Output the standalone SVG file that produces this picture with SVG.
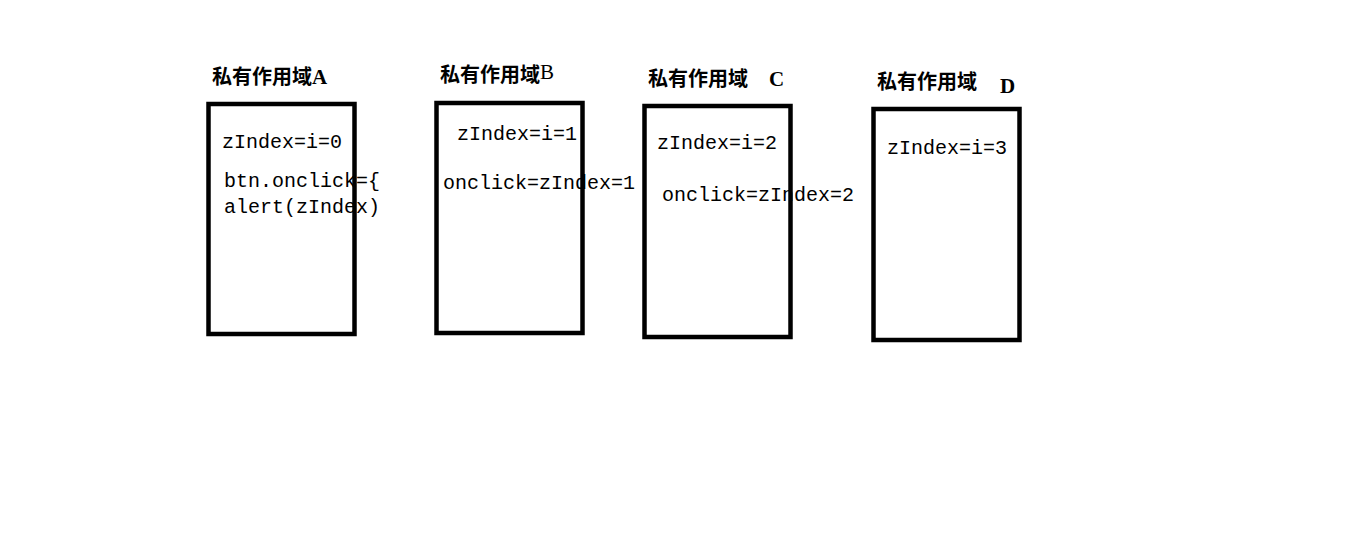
<svg xmlns="http://www.w3.org/2000/svg" width="1360" height="540" viewBox="0 0 1360 540">
<style>
.box{fill:none;stroke:#000;stroke-width:4.5}
.t{font-family:"Liberation Mono","DejaVu Sans Mono",monospace;font-size:20px;fill:#000}
.h{font-family:"Noto Sans CJK SC","Liberation Serif",sans-serif;font-size:20px;font-weight:bold;fill:#000}
.l{font-family:"Liberation Serif",serif;font-size:21px;font-weight:bold}
.n{font-weight:normal}
</style>
<rect width="1360" height="540" fill="#fff"/>
<g id="scopeA">
<text class="h" x="212" y="84">私有作用域<tspan class="l">A</tspan></text>
<text class="t" x="222" y="148">zIndex=i=0</text>
<text class="t" x="224" y="187">btn.onclick={</text>
<text class="t" x="224" y="213">alert(zIndex)</text>
<rect class="box" x="208.5" y="104" width="146" height="230"/>
</g>
<g id="scopeB">
<text class="h" x="440" y="82">私有作用域<tspan class="l n" dy="-3">B</tspan></text>
<text class="t" x="457" y="140">zIndex=i=1</text>
<text class="t" x="443" y="189">onclick=zIndex=1</text>
<rect class="box" x="436.5" y="103" width="146" height="230"/>
</g>
<g id="scopeC">
<text class="h" x="648" y="86">私有作用域<tspan class="l" x="769">C</tspan></text>
<text class="t" x="657" y="149">zIndex=i=2</text>
<text class="t" x="662" y="201">onclick=zIndex=2</text>
<rect class="box" x="644.5" y="106" width="146" height="231"/>
</g>
<g id="scopeD">
<text class="h" x="877" y="89">私有作用域<tspan class="l" x="1000" dy="4">D</tspan></text>
<text class="t" x="887" y="154">zIndex=i=3</text>
<rect class="box" x="873.5" y="109" width="146" height="231"/>
</g>
<g id="connectors"></g>
</svg>
